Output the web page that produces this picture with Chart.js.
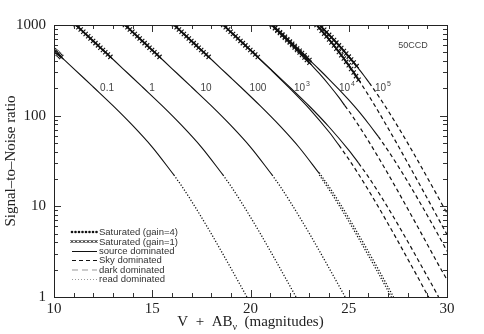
<!DOCTYPE html>
<html>
<head>
<meta charset="utf-8">
<script src="https://cdn.jsdelivr.net/npm/chart.js@4.4.1/dist/chart.umd.min.js"></script>
<style>
  html, body { margin: 0; padding: 0; background: #fff; }
</style>
</head>
<body>
<canvas id="snr" width="484" height="334"></canvas>
<script>
// axis ticks
const magTicks = [10, 15, 20, 25, 30];
const snrTicks = [1, 10, 100, 1000];

// exposure labels (seconds) and where they sit on the plot (mag, S/N)
const expBase = ['0.1', '1', '10', '100', '10', '10', '10'];
const expPow  = ['', '', '', '', '3', '4', '5'];
const expMag  = [12.7, 14.99, 17.74, 20.38, 22.62, 24.91, 26.74];
const expSnr  = 200;

// curves: [magnitude, S/N]
// t = 0.1
const t01Sat = [[10,526],[10.06,511],[10.12,497],[10.19,483],[10.25,469],[10.31,456],[10.37,443]];
const t01Src = [[10.37,443],[11,331],[11.5,262],[12,207],[13,129],[14,78],[15,45],[16.1,22.2]];
const t01Read = [[16.1,22.2],[16.5,16.7],[17,11.4],[17.5,7.6],[18,5.0],[18.5,3.24],[19,2.08],[19.5,1.33],[19.82,1.0]];
// t = 1
const t1Sat = [[11.11,1000],[11.24,944],[11.36,891],[11.49,841],[11.61,794],[11.74,750],[11.86,708],[11.99,668],[12.11,631],[12.24,596],[12.36,562],[12.49,531],[12.61,501],[12.74,473],[12.87,445]];
const t1Src = [[12.87,445],[13.5,331],[14,262],[14.5,207],[15.5,129],[16.5,78],[17.5,45],[18.6,22.2]];
const t1Read = [[18.6,22.2],[19,16.7],[19.5,11.4],[20,7.6],[20.5,5.0],[21,3.24],[21.5,2.08],[22,1.33],[22.32,1.0]];
// t = 10
const t10Sat = [[13.61,1000],[13.74,944],[13.86,891],[13.99,841],[14.11,794],[14.24,750],[14.36,708],[14.49,668],[14.61,631],[14.74,596],[14.86,562],[14.99,531],[15.11,501],[15.24,473],[15.37,445]];
const t10Src = [[15.37,445],[16,331],[16.5,262],[17,207],[18,129],[19,78],[20,45],[21.1,22.2]];
const t10Read = [[21.1,22.2],[21.5,16.7],[22,11.4],[22.5,7.6],[23,5.0],[23.5,3.24],[24,2.08],[24.5,1.33],[24.82,1.0]];
// t = 100
const t100Sat = [[16.11,1000],[16.24,944],[16.36,891],[16.49,841],[16.61,794],[16.74,750],[16.86,708],[16.99,668],[17.11,631],[17.24,596],[17.36,562],[17.49,531],[17.61,501],[17.74,473],[17.87,445]];
const t100Src = [[17.87,445],[18.5,331],[19,262],[19.5,207],[20.5,128],[21.5,77],[22.5,44],[23.5,23]];
const t100ReadA = [[23.5,23.5],[24,16.4],[24.5,11.2],[25,7.45],[25.5,4.88],[26,3.16],[26.5,2.03],[27,1.29],[27.28,1.0]];
const t100ReadB = [[23.5,22.2],[24,15.3],[24.5,10.3],[25,6.84],[25.5,4.45],[26,2.87],[26.5,1.84],[27,1.17],[27.17,1.0]];
// t = 1e3
const t1kSat = [[18.61,1000],[18.74,944],[18.86,891],[18.99,841],[19.11,794],[19.24,750],[19.36,708],[19.49,668],[19.61,631],[19.74,596],[19.86,562],[19.99,531],[20.11,501],[20.24,473],[20.37,443]];
const t1kSrcA = [[20.37,443],[21,330],[22,206],[23,127],[24,75],[25,41.7],[25.5,30.0]];
const t1kSkyA = [[25.5,30.0],[26,21.1],[26.5,14.4],[27,9.62],[27.5,6.32],[28,4.10],[28.5,2.63],[29,1.68],[29.5,1.07],[29.57,1.0]];
const t1kSrcB = [[20.37,440],[21,326],[22,200],[23,119],[24,66],[24.5,47.3]];
const t1kSkyB = [[24.5,47.3],[25,33.1],[25.5,22.6],[26,15.1],[26.5,9.92],[27,6.43],[27.5,4.13],[28,2.63],[28.5,1.675],[29,1.06],[29.07,1.0]];
// t = 1e4
const t10kSatA = [[21.11,1000],[21.25,934],[21.37,880],[21.5,831],[21.62,785],[21.75,740],[21.87,698],[22,658],[22.12,621],[22.25,586],[22.37,552],[22.5,521],[22.62,491],[22.75,463],[22.87,436],[23,411]];
const t10kSatB = [[21.08,1000],[21.25,920],[21.37,866],[21.5,816],[21.62,768],[21.75,723],[21.87,680],[22,640],[22.12,601],[22.25,565],[22.37,531],[22.5,498],[22.62,467],[22.75,438],[22.87,410],[23,384]];
const t10kSrcA = [[23,411],[23.5,323],[24,252],[24.5,195],[25,149],[25.5,112],[26,82],[26.5,59]];
const t10kSkyA = [[26.5,59],[27,41.2],[27.5,28.0],[28,18.7],[28.5,12.25],[29,7.93],[29.5,5.09],[30,3.2]];
const t10kSrcB = [[23,384],[23.5,292],[24,218],[24.5,159],[24.8,129]];
const t10kSkyB = [[24.8,129],[25,113],[25.5,78],[26,52.7],[26.5,34.9],[27,22.8],[27.5,14.7],[28,9.4],[28.5,6.0],[29,3.8],[29.5,2.41],[30,1.55]];
// t = 1e5
const t100kSatA = [[23.51,1000],[23.62,946],[23.75,885],[23.87,833],[24,778],[24.12,731],[24.25,682],[24.37,639],[24.5,596],[24.62,557],[24.75,518],[24.87,484],[25,448],[25.12,417],[25.25,386],[25.4,352]];
const t100kSatB = [[23.36,1000],[23.5,926],[23.62,863],[23.75,803],[23.87,746],[24,692],[24.12,641],[24.25,593],[24.37,548],[24.5,505],[24.62,465],[24.75,427],[24.87,392],[25,359],[25.12,328],[25.25,300],[25.37,273],[25.5,249]];
const t100kSrcA = [[25.4,352],[25.5,330],[25.75,281],[26.04,231]];
const t100kSkyA = [[26.04,231],[26.5,166],[27,113.5],[27.5,75.8],[28,49.8],[28.5,32.3],[29,20.7],[29.5,13.2],[30,8.4]];
const t100kSkyB = [[25.5,249],[26,168.5],[26.5,111.7],[27,72.9],[27.5,47.1],[28,30.1],[28.5,19.2],[29,12.2],[29.5,7.72],[30,4.89]];

const INK = '#111';
const SERIF = '"Liberation Serif", "DejaVu Serif", serif';
const SANS = '"Liberation Sans", Arial, sans-serif';

function xy(pts) {
  return pts.map(p => ({ x: p[0], y: p[1] }));
}
function solid(pts) {
  return { data: xy(pts), showLine: true, borderColor: INK, borderWidth: 1.1,
    pointRadius: 0, cubicInterpolationMode: 'monotone' };
}
function dashed(pts) {
  return { data: xy(pts), showLine: true, borderColor: INK, borderWidth: 1.2, borderDash: [4, 3],
    pointRadius: 0, cubicInterpolationMode: 'monotone' };
}
function dotted(pts) {
  return { data: xy(pts), showLine: true, borderColor: INK, borderWidth: 1.3, borderDash: [1.2, 1.8],
    pointRadius: 0, cubicInterpolationMode: 'monotone' };
}
function saturated(pts) {
  return { data: xy(pts), showLine: true, borderColor: INK, borderWidth: 1.8,
    pointStyle: 'crossRot', pointRadius: 3, pointBorderWidth: 1.1, pointBorderColor: INK,
    cubicInterpolationMode: 'monotone' };
}

const datasets = [
  saturated(t01Sat), solid(t01Src), dotted(t01Read),
  saturated(t1Sat), solid(t1Src), dotted(t1Read),
  saturated(t10Sat), solid(t10Src), dotted(t10Read),
  saturated(t100Sat), solid(t100Src), dotted(t100ReadA), dotted(t100ReadB),
  saturated(t1kSat), solid(t1kSrcA), dashed(t1kSkyA), solid(t1kSrcB), dashed(t1kSkyB),
  saturated(t10kSatA), saturated(t10kSatB), solid(t10kSrcA), dashed(t10kSkyA), solid(t10kSrcB), dashed(t10kSkyB),
  saturated(t100kSatA), saturated(t100kSatB), solid(t100kSrcA), dashed(t100kSkyA), dashed(t100kSkyB)
];

// frame with inward PGPLOT-style ticks, titles, curve labels, legend
const decorations = {
  id: 'decorations',
  afterDraw(chart) {
    const ctx = chart.ctx;
    const a = chart.chartArea;
    const xs = chart.scales.x, ys = chart.scales.y;
    ctx.save();

    // ticks
    ctx.strokeStyle = '#333';
    ctx.lineWidth = 1;
    ctx.beginPath();
    for (let m = 10; m <= 30; m++) {
      const px = Math.round(xs.getPixelForValue(m)) + 0.5;
      const len = magTicks.includes(m) ? 7 : 4;
      ctx.moveTo(px, a.bottom); ctx.lineTo(px, a.bottom - len);
      ctx.moveTo(px, a.top); ctx.lineTo(px, a.top + len);
    }
    for (let d = 1; d < 1000; d *= 10) {
      for (let k = 1; k <= 10; k++) {
        const v = d * k;
        const py = Math.round(ys.getPixelForValue(v)) + 0.5;
        const len = snrTicks.includes(v) ? 7 : 4;
        ctx.moveTo(a.left, py); ctx.lineTo(a.left + len, py);
        ctx.moveTo(a.right, py); ctx.lineTo(a.right - len, py);
      }
    }
    ctx.stroke();

    // box
    ctx.strokeStyle = '#222';
    ctx.strokeRect(Math.round(a.left) + 0.5, Math.round(a.top) + 0.5,
      Math.round(a.right - a.left), Math.round(a.bottom - a.top));

    // axis titles
    ctx.fillStyle = '#222';
    ctx.textBaseline = 'middle';
    ctx.font = '15px ' + SERIF;
    ctx.save();
    ctx.translate(11, (a.top + a.bottom) / 2);
    ctx.rotate(-Math.PI / 2);
    ctx.textAlign = 'center';
    ctx.fillText('Signal\u2013to\u2013Noise ratio', 0, 0);
    ctx.restore();
    const p1 = 'V  +  AB', p2 = '\u03bd', p3 = '  (magnitudes)';
    ctx.font = '15px ' + SERIF;
    const w1 = ctx.measureText(p1).width, w3 = ctx.measureText(p3).width;
    ctx.font = '10px ' + SERIF;
    const w2 = ctx.measureText(p2).width;
    const tx0 = (a.left + a.right) / 2 - (w1 + w2 + w3) / 2;
    ctx.textAlign = 'left';
    ctx.font = '15px ' + SERIF;
    ctx.fillText(p1, tx0, 322);
    ctx.font = '10px ' + SERIF;
    ctx.fillText(p2, tx0 + w1, 327);
    ctx.font = '15px ' + SERIF;
    ctx.fillText(p3, tx0 + w1 + w2, 322);

    // exposure labels
    ctx.fillStyle = '#444';
    for (let i = 0; i < expBase.length; i++) {
      const px = xs.getPixelForValue(expMag[i]);
      const py = ys.getPixelForValue(expSnr);
      ctx.font = '10px ' + SANS;
      const b = ctx.measureText(expBase[i]).width;
      ctx.font = '7px ' + SANS;
      const e = expPow[i] ? ctx.measureText(expPow[i]).width + 1 : 0;
      const x0 = px - (b + e) / 2;
      ctx.font = '10px ' + SANS;
      ctx.fillText(expBase[i], x0, py);
      if (expPow[i]) {
        ctx.font = '7px ' + SANS;
        ctx.fillText(expPow[i], x0 + b + 1, py - 4);
      }
    }
    ctx.font = '9px ' + SANS;
    ctx.textAlign = 'center';
    ctx.fillText('50CCD', xs.getPixelForValue(28.27), ys.getPixelForValue(600));

    // legend
    const lx0 = a.left + 18, lx1 = a.left + 43, lt = a.left + 45;
    const rows = [
      { y: 232, kind: 'dots', text: 'Saturated (gain=4)' },
      { y: 241.5, kind: 'cross', text: 'Saturated (gain=1)' },
      { y: 251, kind: 'solid', text: 'source dominated' },
      { y: 260, kind: 'dash', text: 'Sky dominated' },
      { y: 269.5, kind: 'dark', text: 'dark dominated' },
      { y: 279, kind: 'dot', text: 'read dominated' }
    ];
    ctx.textAlign = 'left';
    ctx.font = '9.5px ' + SANS;
    for (const r of rows) {
      ctx.strokeStyle = INK; ctx.fillStyle = INK;
      ctx.lineWidth = 1; ctx.setLineDash([]);
      if (r.kind === 'dots') {
        for (let x = lx0; x <= lx1; x += 3.5) {
          ctx.beginPath(); ctx.arc(x, r.y, 1.3, 0, Math.PI * 2); ctx.fill();
        }
      } else if (r.kind === 'cross') {
        ctx.beginPath();
        for (let x = lx0; x <= lx1; x += 4) {
          ctx.moveTo(x - 1.5, r.y - 1.5); ctx.lineTo(x + 1.5, r.y + 1.5);
          ctx.moveTo(x - 1.5, r.y + 1.5); ctx.lineTo(x + 1.5, r.y - 1.5);
        }
        ctx.stroke();
      } else {
        if (r.kind === 'dash') ctx.setLineDash([4, 3]);
        if (r.kind === 'dark') { ctx.setLineDash([6, 4]); ctx.strokeStyle = '#bbb'; ctx.lineWidth = 1.5; }
        if (r.kind === 'dot') { ctx.setLineDash([1, 2]); ctx.strokeStyle = '#999'; }
        ctx.beginPath(); ctx.moveTo(lx0, r.y + 0.5); ctx.lineTo(lx1, r.y + 0.5); ctx.stroke();
      }
      ctx.setLineDash([]);
      ctx.fillStyle = '#333';
      ctx.fillText(r.text, lt, r.y + 0.5);
    }
    ctx.restore();
  }
};

new Chart(document.getElementById('snr'), {
  type: 'scatter',
  data: { datasets },
  options: {
    responsive: false,
    animation: false,
    layout: { padding: { top: 25, right: 37, left: 0, bottom: 0 } },
    plugins: { legend: { display: false }, tooltip: { enabled: false } },
    scales: {
      x: {
        type: 'linear', min: 10, max: 30,
        afterFit(s) { s.height = 37; },
        grid: { display: false, drawTicks: false },
        border: { display: false },
        ticks: {
          stepSize: 5, padding: 3, color: '#222',
          font: { family: SERIF, size: 15 },
          callback: v => magTicks.includes(v) ? String(v) : ''
        }
      },
      y: {
        type: 'logarithmic', min: 1, max: 1000,
        afterFit(s) { s.width = 54; },
        grid: { display: false, drawTicks: false },
        border: { display: false },
        ticks: {
          padding: 8, color: '#222', autoSkip: false,
          font: { family: SERIF, size: 15 },
          callback: v => snrTicks.includes(v) ? String(v) : ''
        }
      }
    }
  },
  plugins: [decorations]
});
</script>
</body>
</html>
